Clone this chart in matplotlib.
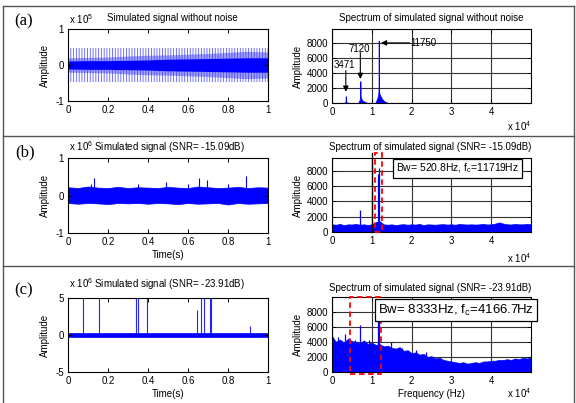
import numpy as np
import matplotlib
matplotlib.use('Agg')
import matplotlib.pyplot as plt
from matplotlib.patches import Rectangle

plt.rcParams['font.family'] = ['Liberation Sans', 'DejaVu Sans']
plt.rcParams['mathtext.fontset'] = 'custom'
plt.rcParams['mathtext.rm'] = 'Liberation Sans'
plt.rcParams['mathtext.it'] = 'Liberation Sans:italic'
plt.rcParams['hatch.linewidth'] = 0.6

W, H = 576, 403
BLUE = '#0000ff'

# ---- (a) time signal, x1e5 (envelopes read at t = 0, 0.1, ... 1)
t_env = [0, 0.1, 0.2, 0.3, 0.4, 0.5, 0.6, 0.7, 0.8, 0.9, 1.0]
a_outer = 0.47
a_mid = [0.20, 0.21, 0.22, 0.25, 0.27, 0.28, 0.30, 0.32, 0.35, 0.38, 0.36]
a_core = [0.11, 0.12, 0.12, 0.13, 0.14, 0.16, 0.17, 0.18, 0.19, 0.20, 0.20]

# ---- (a) spectrum
fa_f = [0, 3300, 3420, 3471, 3520, 3700, 4200, 6600, 6950, 7080, 7120, 7160, 7300, 7600,
        8200, 9000, 10900, 11300, 11600, 11720, 11750, 11780, 11900, 12200, 12600, 13200,
        14000, 50000]
fa_amp = [0, 0, 250, 900, 250, 80, 0, 0, 400, 900, 2900, 900, 650, 350,
          150, 0, 0, 500, 1000, 2000, 8300, 1800, 1250, 900, 500, 200,
          0, 0]
peaks_a = [3471, 7120, 11750]

# ---- (b) time signal, x1e6 (band envelope at t = 0, 0.05, ... 1)
t_b = [0, 0.05, 0.1, 0.15, 0.2, 0.25, 0.3, 0.35, 0.4, 0.45, 0.5, 0.55, 0.6, 0.65, 0.7,
       0.75, 0.8, 0.85, 0.9, 0.95, 1.0]
b_up = [0.22, 0.20, 0.24, 0.21, 0.20, 0.23, 0.20, 0.22, 0.21, 0.20, 0.23, 0.21, 0.20,
        0.24, 0.22, 0.20, 0.21, 0.23, 0.20, 0.22, 0.21]
b_lo = [-0.20, -0.22, -0.20, -0.21, -0.23, -0.20, -0.21, -0.20, -0.22, -0.20, -0.21,
        -0.23, -0.20, -0.22, -0.21, -0.20, -0.24, -0.20, -0.22, -0.21, -0.20]
b_spk_t = [0.115, 0.13, 0.35, 0.49, 0.60, 0.655, 0.695, 0.80, 0.89]
b_spk_v = [0.30, 0.46, 0.30, 0.37, 0.30, 0.48, 0.41, 0.30, 0.52]

# ---- (b) spectrum (floor read every 1000 Hz)
f_grid = [i * 1000 for i in range(51)]
fb_floor = [1000, 950, 1050, 900, 1000, 980, 1050, 950, 1000, 920,
            1000, 1300, 1400, 1000, 950, 1000, 900, 980, 1020, 950,
            1000, 970, 1050, 900, 1000, 980, 950, 1000, 1020, 970,
            1000, 950, 1050, 1000, 980, 1000, 970, 1000, 1050, 980,
            1000, 1100, 1250, 1100, 1000, 980, 1050, 1000, 1000, 1050,
            1000]
fb_spk_f = [7120, 11500, 11719]
fb_spk_a = [2850, 7600, 8300]

# ---- (c) time signal, x1e6
c_band = 0.3
c_spk_t = [0.075, 0.155, 0.338, 0.35, 0.397, 0.645, 0.663, 0.678, 0.712, 0.716, 0.908]
c_spk_v = [6, 6, 6, 6, 6, 3.4, 6, 6, 6, 6, 1.2]

# ---- (c) spectrum
fc_floor = [4700, 4000, 4300, 3900, 4400, 4100, 4000, 3800, 4200, 3700,
            3900, 3600, 3700, 3400, 3500, 3200, 3100, 3300, 2800, 2900,
            2500, 2600, 2300, 2400, 2000, 2100, 1800, 1900, 1600, 1500,
            1400, 1300, 1200, 1300, 1100, 1200, 1300, 1200, 1400, 1400,
            1500, 1500, 1600, 1600, 1700, 1600, 1800, 1700, 1900, 1800,
            1900]
fc_spk_f = [300, 1500, 3200, 4200, 5800, 7120, 9300, 11500, 11750, 14700, 17600, 21000, 23500]
fc_spk_a = [4700, 4600, 5100, 4500, 4300, 6200, 4200, 8900, 8000, 4000, 3200, 2900, 2600]

freq_ticks = [0, 10000, 20000, 30000, 40000]
freq_labels = ['0', '1', '2', '3', '4']
amp_ticks = [0, 2000, 4000, 6000, 8000]
time_ticks = [0, 0.2, 0.4, 0.6, 0.8, 1]
time_labels = ['0', '0.2', '0.4', '0.6', '0.8', '1']


fig = plt.figure(figsize=(W / 100, H / 100), dpi=100)


def add_ax(x0, x1, ytop, ybot):
    ax = fig.add_axes([x0 / W, 1 - ybot / H, (x1 - x0) / W, (ybot - ytop) / H])
    ax.tick_params(direction='in', length=3, width=0.7, labelsize=7, pad=3,
                   top=True, right=True)
    for s in ax.spines.values():
        s.set_linewidth(0.8)
    return ax


def ftext(px, py, s, **kw):
    kw.setdefault('fontsize', 7)
    kw.setdefault('ha', 'center')
    kw.setdefault('va', 'center')
    fig.text(px / W, 1 - py / H, s, **kw)


def time_ax(ax, lim, ticks):
    ax.set_xlim(0, 1)
    ax.set_ylim(-lim, lim)
    ax.set_xticks(time_ticks, time_labels)
    ax.set_yticks(ticks, [str(v) for v in ticks])
    ax.set_ylabel('Amplitude', fontsize=7, labelpad=4)


def spec_ax(ax, top):
    ax.set_xlim(0, 50000)
    ax.set_ylim(0, top)
    ax.set_xticks(freq_ticks, freq_labels)
    ax.set_yticks(amp_ticks, [str(v) for v in amp_ticks])
    ax.set_ylabel('Amplitude', fontsize=7, labelpad=2)
    ax.grid(True, color='#333333', lw=0.8)
    ax.set_axisbelow(True)


arrow = dict(arrowstyle='-|>', color='k', lw=0.8, mutation_scale=8, shrinkA=0, shrinkB=0)

# ---------------- row (a)
ax = add_ax(68, 268, 29, 101)
ax.fill_between(t_env, -a_outer, a_outer, facecolor='none', edgecolor='#5a5aff',
                hatch='||||||', lw=0)
ax.fill_between(t_env, [-v for v in a_mid], a_mid, color='#4040ff', alpha=0.5, lw=0)
ax.fill_between(t_env, [-v for v in a_core], a_core, color=BLUE, lw=0)
time_ax(ax, 1, [-1, 0, 1])

ax = add_ax(332, 531, 29, 103)
ax.fill_between(fa_f, fa_amp, color=BLUE, lw=0.6)
spec_ax(ax, 9850)
ax.annotate('', xy=(peaks_a[0], 1500), xytext=(peaks_a[0], 4300), arrowprops=arrow)
ax.annotate('', xy=(peaks_a[1], 3200), xytext=(peaks_a[1], 6700), arrowprops=arrow)
ax.annotate('', xy=(12300, 8000), xytext=(19500, 8000), arrowprops=arrow)
ax.text(3220, 5080, str(peaks_a[0]), fontsize=7, ha='center', va='center')
ax.text(6880, 7230, str(peaks_a[1]), fontsize=7, ha='center', va='center')
ax.text(19700, 8000, str(peaks_a[2]), fontsize=7, ha='left', va='center')

ftext(24, 21, '(a)', fontsize=12, family='Liberation Serif')
ftext(69, 19, r'x 10$^{5}$', ha='left')
ftext(172, 18, 'Simulated signal without noise')
ftext(431, 18, 'Spectrum of simulated signal without noise')
ftext(531, 126, r'x 10$^{4}$', ha='right')

# ---------------- row (b)
ax = add_ax(68, 268, 158, 233)
ax.fill_between(t_b, b_lo, b_up, color=BLUE, lw=0.5)
ax.vlines(b_spk_t, 0, b_spk_v, color=BLUE, lw=0.8)
time_ax(ax, 1, [-1, 0, 1])
ax.set_xlabel('Time(s)', fontsize=7, labelpad=2)

ax = add_ax(332, 531, 158, 232)
ax.fill_between(f_grid, fb_floor, color=BLUE, lw=0.5)
ax.vlines(fb_spk_f, 0, fb_spk_a, color=BLUE, lw=0.9)
spec_ax(ax, 9650)
ax.plot([10000, 10000], [0, 10300], color='k', lw=1, clip_on=False)
ax.add_patch(Rectangle((10730, 0), 1760, 10300, fill=False, edgecolor='red', lw=1.3,
                       ls=(0, (3, 2)), clip_on=False, zorder=5))
ax.text(31560, 8290, r'Bw= 520.8Hz, f$_{\rm c}$=11719Hz', fontsize=7.5, ha='center',
        va='center', bbox=dict(boxstyle='square,pad=0.3', fc='white', ec='k', lw=0.9),
        zorder=6)

ftext(25, 152, '(b)', fontsize=12, family='Liberation Serif')
ftext(69, 147, r'x 10$^{6}$ Simulated signal (SNR= -15.09dB)', ha='left')
ftext(430, 147, 'Spectrum of simulated signal (SNR= -15.09dB)')
ftext(531, 258, r'x 10$^{4}$', ha='right')

# ---------------- row (c)
ax = add_ax(68, 268, 298, 372)
ax.fill_between([0, 1], -c_band, c_band, color=BLUE, lw=0.5)
ax.vlines(c_spk_t, 0, c_spk_v, color=BLUE, lw=0.8, alpha=0.85)
time_ax(ax, 5, [-5, 0, 5])
ax.set_xlabel('Time(s)', fontsize=7, labelpad=2)

ax = add_ax(332, 531, 297, 372)
ax.fill_between(f_grid, fc_floor, color=BLUE, lw=0.5)
ax.vlines(fc_spk_f, 0, fc_spk_a, color=BLUE, lw=0.9)
spec_ax(ax, 9950)
ax.set_xlabel('Frequency (Hz)', fontsize=7, labelpad=2)
ax.add_patch(Rectangle((4610, -260), 7790, 10260, fill=False, edgecolor='red', lw=1.3,
                       ls=(0, (3, 2)), clip_on=False, zorder=5))
ax.text(31200, 8220, r'Bw= 8333Hz, f$_{\rm c}$=4166.7Hz', fontsize=9.5, ha='center',
        va='center', bbox=dict(boxstyle='square,pad=0.25', fc='white', ec='k', lw=0.9),
        zorder=6)

ftext(24, 290, '(c)', fontsize=12, family='Liberation Serif')
ftext(69, 284, r'x 10$^{6}$ Simulated signal (SNR= -23.91dB)', ha='left')
ftext(430, 288, 'Spectrum of simulated signal (SNR= -23.91dB)')
ftext(531, 393, r'x 10$^{4}$', ha='right')

# ---------------- frame and row dividers
frame = dict(color='#555555', lw=1)
fig.add_artist(plt.Line2D([2.5 / W, 2.5 / W], [0, 1 - 6 / H], transform=fig.transFigure, **frame))
fig.add_artist(plt.Line2D([574 / W, 574 / W], [0, 1 - 6 / H], transform=fig.transFigure, **frame))
for py in [6, 136, 266]:
    fig.add_artist(plt.Line2D([2.5 / W, 574 / W], [1 - py / H, 1 - py / H],
                              transform=fig.transFigure, **frame))

fig.savefig('out.png', dpi=100)
